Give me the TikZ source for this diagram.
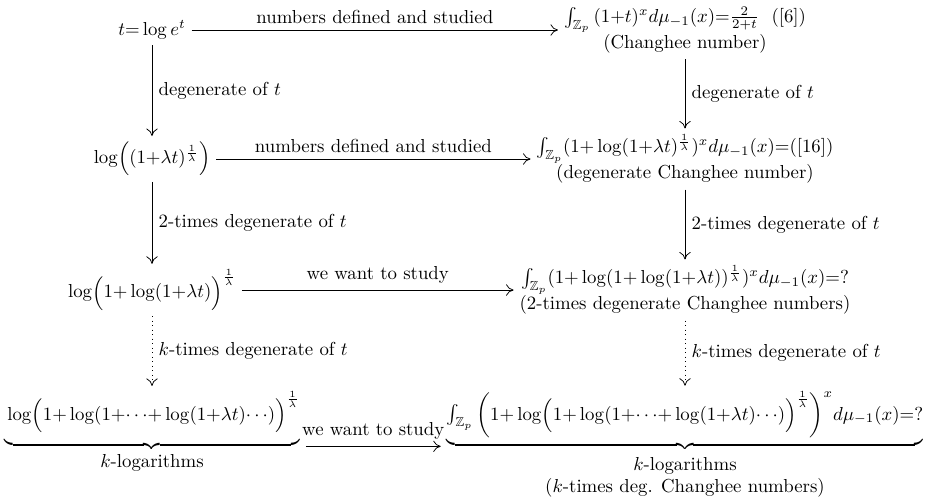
\documentclass[tikz,border=0pt]{standalone}
\usepackage{amsmath,amssymb}
\usepackage{tikz}
\usetikzlibrary{arrows.meta}
\usetikzlibrary{calc}
\tikzset{>={Computer Modern Rightarrow[length=4pt,width=6pt]}}
\tikzstyle{formula}=[inner sep=3pt,align=center]
\tikzstyle{step arrow}=[->,thin]
\tikzstyle{dot arrow}=[->,thin,dotted]

\begin{document}
\begin{tikzpicture}[x=0.532pt,y=-0.532pt]
  \def\L{152}  % left column
  \def\R{685}  % right column
  \useasboundingbox (0,0) rectangle (928,496);

  % left column: the logarithms
  \node[formula] (tlog) at (\L,30) {$t{=}\log e^t$};
  \node[formula] (dlog) at (\L,159) {$\log\Bigl((1{+}\lambda t)^{\frac{1}{\lambda}}\Bigr)$};
  \node[formula] (ddlog) at (\L,290) {$\log\Bigl(1{+}\log(1{+}\lambda t)\Bigr)^{\frac{1}{\lambda}}$};
  \node[formula,anchor=base] (klog) at (\L,420)
    {$\underbrace{\textstyle\vphantom{\biggl(}\log\Bigl(1{+}\log(1{+}{\cdots}{+}\log(1{+}\lambda t){\cdots})\Bigr)^{\frac{1}{\lambda}}}_{\textstyle k\text{-logarithms}}$};

  % right column: the Changhee numbers
  \node[formula] (chg) at (\R,30)
    {$\int_{\mathbb{Z}_p}\,(1{+}t)^x d\mu_{-1}(x){=}\frac{2}{2+t}$\ \ ([6])\\(Changhee number)};
  \node[formula] (dchg) at (\R,159)
    {$\int_{\mathbb{Z}_p}(1{+}\log(1{+}\lambda t)^{\frac{1}{\lambda}})^x d\mu_{-1}(x){=}([16])$\\(degenerate Changhee number)};
  \node[formula] (ddchg) at (\R,290)
    {$\int_{\mathbb{Z}_p}(1{+}\log(1{+}\log(1{+}\lambda t))^{\frac{1}{\lambda}})^x d\mu_{-1}(x){=}?$\\(2-times degenerate Changhee numbers)};
  \node[formula,anchor=base] (kchg) at (\R,420)
    {$\underbrace{\textstyle\int_{\mathbb{Z}_p}\,\biggl(1{+}\log\Bigl(1{+}\log(1{+}{\cdots}{+}\log(1{+}\lambda t){\cdots})\Bigr)^{\frac{1}{\lambda}}\biggr)^x d\mu_{-1}(x){=}?}_{\textstyle\begin{array}{c}k\text{-logarithms}\\(k\text{-times deg. Changhee numbers})\end{array}}$};

  % horizontal arrows
  \draw[step arrow] (tlog) -- node[above] {numbers defined and studied} (chg);
  \draw[step arrow] (dlog) -- node[above] {numbers defined and studied} (dchg);
  \draw[step arrow] (ddlog) -- node[above] {we want to study} (ddchg);
  \draw[step arrow] ([yshift=-14pt]klog.base east) -- node[above] {we want to study} ([yshift=-14pt]kchg.base west);

  % vertical arrows
  \draw[step arrow] (tlog) -- node[right] {degenerate of $t$} (dlog);
  \draw[step arrow] (dlog) -- node[right] {2-times degenerate of $t$} (ddlog);
  \draw[dot arrow] (ddlog) -- node[right] {$k$-times degenerate of $t$} (klog);
  \draw[step arrow] (chg) -- node[right] {degenerate of $t$} (dchg);
  \draw[step arrow] (dchg) -- node[right] {2-times degenerate of $t$} (ddchg);
  \draw[dot arrow] (ddchg) -- node[right] {$k$-times degenerate of $t$} (kchg);
\end{tikzpicture}
\end{document}
